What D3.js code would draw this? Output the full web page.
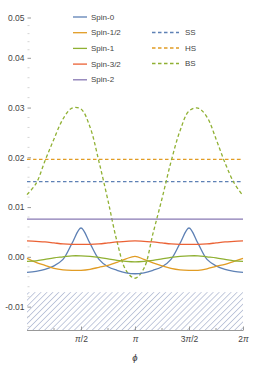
<!DOCTYPE html>
<html>
<head>
<meta charset="utf-8">
<script src="https://cdn.jsdelivr.net/npm/d3@7"></script>
<style>
  body { margin: 0; background: #fff; }
  svg { display: block; font-family: "Liberation Sans", "DejaVu Sans", sans-serif; }
  .tick text { fill: #444; font-size: 8.5px; }
</style>
</head>
<body>
<div class="chart"></div>
<script>
// phi grid: 0 .. 2pi in steps of pi/12
const phi = d3.range(25).map(k => k * Math.PI / 12);

const spin0  = [-0.0032, -0.0030, -0.0026, -0.0019, -0.0006, 0.0026, 0.0057, 0.0026, -0.0006, -0.0021, -0.0028, -0.0033, -0.0035,
                -0.0033, -0.0028, -0.0021, -0.0006, 0.0026, 0.0057, 0.0026, -0.0006, -0.0019, -0.0026, -0.0030, -0.0032];
const spin12 = [-0.0004, -0.0012, -0.0018, -0.0024, -0.0027, -0.0028, -0.0028, -0.0026, -0.0022, -0.0018, -0.0012, -0.0005, 0.0000,
                -0.0006, -0.0013, -0.0019, -0.0024, -0.0027, -0.0028, -0.0028, -0.0025, -0.0020, -0.0016, -0.0010, -0.0004];
const spin1  = [-0.0010, -0.0009, -0.0006, -0.0003, -0.0001, 0.0001, 0.0001, 0.0000, -0.0002, -0.0005, -0.0008, -0.0010, -0.0011,
                -0.0010, -0.0008, -0.0005, -0.0002, 0.0000, 0.0001, 0.0001, -0.0001, -0.0003, -0.0006, -0.0009, -0.0010];
const spin32 = [0.0031, 0.0030, 0.0029, 0.0027, 0.0025, 0.0024, 0.0024, 0.0024, 0.0025, 0.0027, 0.0029, 0.0030, 0.0031,
                0.0030, 0.0029, 0.0027, 0.0025, 0.0024, 0.0024, 0.0024, 0.0025, 0.0027, 0.0029, 0.0030, 0.0031];
const spin2  = [0.0075, 0.0075, 0.0075, 0.0075, 0.0075, 0.0075, 0.0075, 0.0075, 0.0075, 0.0075, 0.0075, 0.0075, 0.0075,
                0.0075, 0.0075, 0.0075, 0.0075, 0.0075, 0.0075, 0.0075, 0.0075, 0.0075, 0.0075, 0.0075, 0.0075];
const bs     = [0.0124, 0.0146, 0.0192, 0.0236, 0.0276, 0.0298, 0.0296, 0.0260, 0.0190, 0.0112, 0.0030, -0.0028, -0.0044,
                -0.0024, 0.0046, 0.0116, 0.0190, 0.0252, 0.0292, 0.0298, 0.0280, 0.0236, 0.0188, 0.0148, 0.0122];
const ssLevel = 0.0150;
const hsLevel = 0.0195;
const boundLevel = -0.0072;   // top of hatched region

const yTicks = [-0.01, 0.00, 0.01, 0.02, 0.03, 0.04, 0.05];
const xTicks = [Math.PI / 2, Math.PI, 3 * Math.PI / 2, 2 * Math.PI];
const xTickLabels = [["π", "/2"], ["π", ""], ["3", "π", "/2"], ["2", "π"]];

const curves = [
  {name: "Spin-0",   values: spin0,  color: "#5E81B5"},
  {name: "Spin-1/2", values: spin12, color: "#E19C24"},
  {name: "Spin-1",   values: spin1,  color: "#8FB032"},
  {name: "Spin-3/2", values: spin32, color: "#EB6235"},
  {name: "Spin-2",   values: spin2,  color: "#8778B3"}
];
const dashed = [
  {name: "SS", values: phi.map(() => ssLevel), color: "#5E81B5"},
  {name: "HS", values: phi.map(() => hsLevel), color: "#E19C24"},
  {name: "BS", values: bs,                     color: "#8FB032"}
];

const width = 254, height = 365;

const svg = d3.select(".chart").append("svg")
    .attr("width", width)
    .attr("height", height);

const x = d3.scaleLinear().domain([0, 2 * Math.PI]).range([27, 243]);
// top label sits closer than the linear spacing, as in the picture
const y = d3.scaleLinear().domain([-0.0148, 0.04, 0.05]).range([330, 57.3, 17]);

// hatched excluded region
const defs = svg.append("defs");
defs.append("pattern")
    .attr("id", "hatch")
    .attr("patternUnits", "userSpaceOnUse")
    .attr("width", 4.2)
    .attr("height", 4.2)
    .attr("patternTransform", "rotate(45)")
  .append("line")
    .attr("x1", 0).attr("y1", 0)
    .attr("x2", 0).attr("y2", 4.2)
    .attr("stroke", "#7d8db5")
    .attr("stroke-width", 0.9);

svg.append("rect")
    .attr("x", x(0))
    .attr("y", y(boundLevel))
    .attr("width", x(2 * Math.PI) - x(0))
    .attr("height", y(-0.0148) - y(boundLevel))
    .attr("fill", "url(#hatch)");

// y axis: ticks pointing inward, no spine
const minorY = d3.range(-14, 51, 2).map(d => d / 1000).filter(v => Math.round(v * 1000) % 10 !== 0);
svg.append("g")
    .attr("transform", "translate(27.5,0)")
    .selectAll("line")
    .data(minorY)
    .join("line")
    .attr("x1", 0).attr("x2", 2)
    .attr("y1", d => y(d) + 0.5).attr("y2", d => y(d) + 0.5)
    .attr("stroke", "#bbb")
    .attr("stroke-width", 0.6);

const yAxis = svg.append("g")
    .attr("transform", "translate(27.5,0.5)")
    .call(d3.axisLeft(y).tickValues(yTicks).tickSizeInner(-3.5).tickSizeOuter(0).tickPadding(3)
      .tickFormat(d => (d < 0 ? "-" : "") + Math.abs(d).toFixed(2)));
yAxis.select(".domain").remove();
yAxis.selectAll(".tick line").attr("stroke", "#999");

// x axis
const minorX = [1, 3, 5, 7].map(k => k * Math.PI / 4);
const xAxis = svg.append("g")
    .attr("transform", "translate(0,330.5)")
    .call(d3.axisBottom(x).tickValues(xTicks).tickSizeInner(-4).tickSizeOuter(0).tickPadding(5));
xAxis.select(".domain").attr("stroke", "#999").attr("d", "M" + x(0) + ",0H" + x(2 * Math.PI));
xAxis.selectAll(".tick line").attr("stroke", "#999");
xAxis.selectAll(".tick text").each(function(d, i) {
  const t = d3.select(this).text("");
  xTickLabels[i].forEach(part => {
    t.append("tspan").text(part).style("font-style", part === "π" ? "italic" : "normal");
  });
});
xAxis.selectAll(".minor")
    .data(minorX)
    .join("line")
    .attr("class", "minor")
    .attr("x1", d => x(d)).attr("x2", d => x(d))
    .attr("y1", 0).attr("y2", -2.5)
    .attr("stroke", "#999");

svg.append("text")
    .attr("x", x(Math.PI))
    .attr("y", 361)
    .attr("text-anchor", "middle")
    .attr("font-size", 9.5)
    .attr("font-style", "italic")
    .attr("fill", "#333")
    .text("ϕ");

const line = d3.line()
    .x((d, i) => x(phi[i]))
    .y(d => y(d))
    .curve(d3.curveCatmullRom);

svg.append("g").selectAll("path")
    .data(dashed)
    .join("path")
    .attr("d", d => line(d.values))
    .attr("fill", "none")
    .attr("stroke", d => d.color)
    .attr("stroke-width", 1.3)
    .attr("stroke-dasharray", "3.5,2.5");

svg.append("g").selectAll("path")
    .data(curves)
    .join("path")
    .attr("d", d => line(d.values))
    .attr("fill", "none")
    .attr("stroke", d => d.color)
    .attr("stroke-width", 1.3);

// legends
const leg1 = svg.append("g").selectAll("g")
    .data(curves)
    .join("g")
    .attr("transform", (d, i) => "translate(73," + (17 + i * 15.7) + ")");
leg1.append("line")
    .attr("x1", 0).attr("x2", 14)
    .attr("stroke", d => d.color)
    .attr("stroke-width", 1.3);
leg1.append("text")
    .attr("x", 18)
    .attr("dy", "0.33em")
    .attr("font-size", 8)
    .attr("fill", "#444")
    .text(d => d.name);

const leg2 = svg.append("g").selectAll("g")
    .data(dashed)
    .join("g")
    .attr("transform", (d, i) => "translate(152," + (32.5 + i * 15.5) + ")");
leg2.append("line")
    .attr("x1", 0).attr("x2", 27)
    .attr("stroke", d => d.color)
    .attr("stroke-width", 1.3)
    .attr("stroke-dasharray", "3.5,2.5");
leg2.append("text")
    .attr("x", 33)
    .attr("dy", "0.33em")
    .attr("font-size", 8)
    .attr("fill", "#444")
    .text(d => d.name);
</script>
</body>
</html>
